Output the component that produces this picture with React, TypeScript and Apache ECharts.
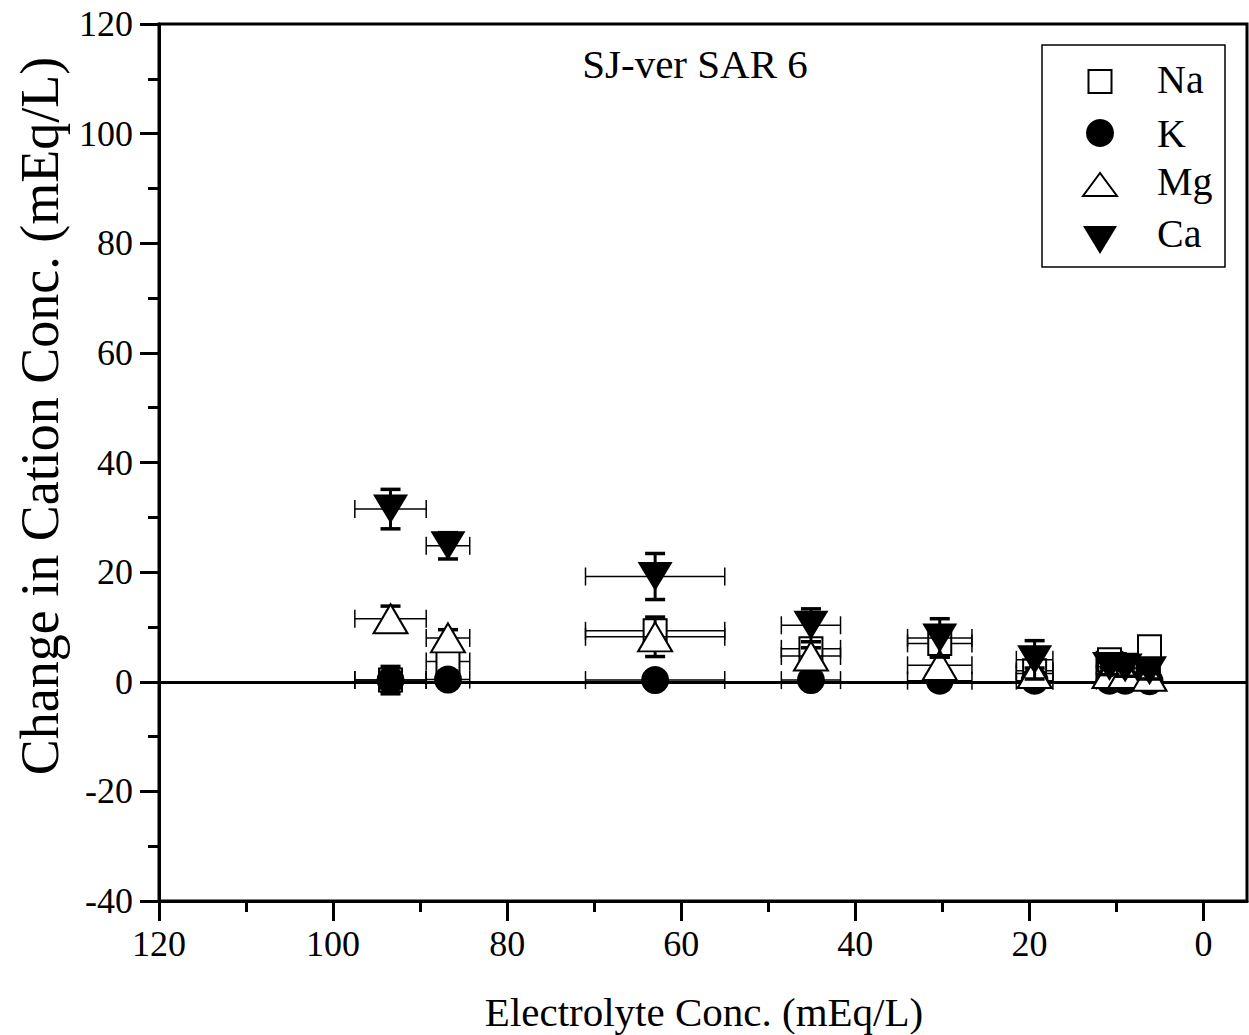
import React, { useEffect, useRef } from "react";
import * as echarts from "echarts";

const FONT = "Liberation Serif";

const cations = ["Na", "K", "Mg", "Ca"];
const electrolyte = [93.4, 86.8, 63.0, 45.1, 30.3, 19.4, 10.8, 9.0, 6.2];
const electrolyteErr = [4.1, 2.5, 8.0, 3.4, 3.7, 2.1, 1.5, 1.5, 1.2];

const naValues = [0.3, 3.7, 9.3, 6.0, 7.0, 2.0, 4.0, 3.0, 6.4];
const naErr = [2.0, 1.5, 1.0, 1.0, 1.0, 1.0, 1.0, 1.0, 1.5];
const kValues = [0.3, 0.4, 0.3, 0.3, 0.2, 0.2, 0.2, 0.2, 0.1];
const kErr = [2.5, 1.5, 0.3, 0.5, 0.5, 0.5, 0.8, 0.8, 1.0];
const mgValues = [11.5, 8.0, 8.2, 4.7, 3.0, 1.5, 1.5, 1.5, 1.0];
const mgErr = [2.3, 1.5, 3.6, 1.5, 1.5, 1.0, 1.0, 1.0, 1.0];
const caValues = [31.5, 24.8, 19.2, 10.3, 8.0, 4.0, 2.8, 2.5, 2.0];
const caErr = [3.6, 2.4, 4.2, 3.0, 3.5, 3.5, 1.5, 1.5, 1.5];

const xMajorTicks = [0, 20, 40, 60, 80, 100, 120];
const xMinorTicks = [10, 30, 50, 70, 90, 110];
const yMinorTicks = [-30, -10, 10, 30, 50, 70, 90, 110];

const seriesValues = [naValues, kValues, mgValues, caValues];
const seriesErrs = [naErr, kErr, mgErr, caErr];

const markerStyles: any[] = [
  { symbol: "rect", symbolSize: 23, symbolRotate: 0, itemStyle: { color: "#fff", borderColor: "#000", borderWidth: 2, opacity: 1 } },
  { symbol: "circle", symbolSize: 28, symbolRotate: 0, itemStyle: { color: "#000", borderColor: "#000", borderWidth: 0, opacity: 1 } },
  { symbol: "triangle", symbolSize: [34, 29], symbolRotate: 0, itemStyle: { color: "#fff", borderColor: "#000", borderWidth: 2, opacity: 1 } },
  { symbol: "triangle", symbolSize: [35, 29], symbolRotate: 180, itemStyle: { color: "#000", borderColor: "#000", borderWidth: 0, opacity: 1 } },
];

function errorRender(params: any, api: any) {
  const x = api.value(0);
  const y = api.value(1);
  const xe = api.value(2);
  const ye = api.value(3);
  const l = api.coord([x + xe, y]);
  const r = api.coord([x - xe, y]);
  const t = api.coord([x, y + ye]);
  const b = api.coord([x, y - ye]);
  const thin = { stroke: "#000", lineWidth: 1.5 };
  const thick = { stroke: "#000", lineWidth: 3 };
  const capH = 9;
  const capW = 10;
  return {
    type: "group",
    children: [
      { type: "line", shape: { x1: l[0], y1: l[1], x2: r[0], y2: r[1] }, style: thin },
      { type: "line", shape: { x1: l[0], y1: l[1] - capH, x2: l[0], y2: l[1] + capH }, style: thin },
      { type: "line", shape: { x1: r[0], y1: r[1] - capH, x2: r[0], y2: r[1] + capH }, style: thin },
      { type: "line", shape: { x1: t[0], y1: t[1], x2: b[0], y2: b[1] }, style: thick },
      { type: "line", shape: { x1: t[0] - capW, y1: t[1], x2: t[0] + capW, y2: t[1] }, style: { stroke: "#000", lineWidth: 3.5 } },
      { type: "line", shape: { x1: b[0] - capW, y1: b[1], x2: b[0] + capW, y2: b[1] }, style: { stroke: "#000", lineWidth: 3.5 } },
    ],
  };
}

export default function App() {
  const ref = useRef<HTMLDivElement>(null);
  useEffect(() => {
    if (!ref.current) return;
    const chart = echarts.init(ref.current, null, { renderer: "svg" });

    const series: any[] = [
      {
        type: "line",
        name: "zero",
        data: [],
        z: 1,
        markLine: {
          silent: true,
          symbol: "none",
          label: { show: false },
          lineStyle: { color: "#000", width: 3, type: "solid" },
          data: [{ yAxis: 0 }],
        },
      },
    ];
    cations.forEach((name, i) => {
      const vals = seriesValues[i];
      const errs = seriesErrs[i];
      series.push({
        type: "custom",
        name: name + " error",
        z: 2 + i * 2,
        renderItem: errorRender,
        encode: { x: 0, y: 1 },
        data: electrolyte.map((e, j) => [e, vals[j], electrolyteErr[j], errs[j]]),
      });
      series.push({
        type: "scatter",
        name,
        z: 3 + i * 2,
        ...markerStyles[i],
        emphasis: { disabled: true },
        data: electrolyte.map((e, j) => [e, vals[j]]),
      });
    });

    const legendTop = [81.5, 133, 185, 238];
    const legendTextY = [79, 133, 181, 233];
    const legendGraphics: any[] = [
      {
        type: "rect",
        shape: { x: 1042, y: 45, width: 183, height: 222 },
        style: { fill: "#fff", stroke: "#000", lineWidth: 1.5 },
        z: 100,
      },
      {
        type: "rect",
        shape: { x: 1100 - 11.5, y: legendTop[0] - 11.5, width: 23, height: 23 },
        style: { fill: "#fff", stroke: "#000", lineWidth: 2 },
        z: 101,
      },
      {
        type: "circle",
        shape: { cx: 1100, cy: legendTop[1], r: 14 },
        style: { fill: "#000" },
        z: 101,
      },
      {
        type: "polygon",
        shape: { points: [[1100, legendTop[2] - 12], [1083, legendTop[2] + 11], [1117, legendTop[2] + 11]] },
        style: { fill: "#fff", stroke: "#000", lineWidth: 2 },
        z: 101,
      },
      {
        type: "polygon",
        shape: { points: [[1083, legendTop[3] - 12], [1117, legendTop[3] - 12], [1100, legendTop[3] + 16]] },
        style: { fill: "#000" },
        z: 101,
      },
    ];
    cations.forEach((name, i) => {
      legendGraphics.push({
        type: "text",
        x: 1157,
        y: legendTextY[i],
        z: 101,
        style: {
          text: name,
          fontSize: 40,
          fontFamily: FONT,
          fill: "#000",
          align: "left",
          verticalAlign: "middle",
        },
      });
    });

    const option: any = {
      animation: false,
      backgroundColor: "#fff",
      textStyle: { fontFamily: FONT },
      grid: {
        left: 159,
        right: 2,
        top: 24,
        bottom: 134,
        show: true,
        borderColor: "#000",
        borderWidth: 3,
        backgroundColor: "transparent",
      },
      xAxis: [
        {
          type: "value",
          min: -5,
          max: 120,
          inverse: true,
          position: "bottom",
          axisLine: { show: true, onZero: false, lineStyle: { color: "#000", width: 3 } },
          axisTick: { show: true, customValues: xMajorTicks, length: 20, lineStyle: { color: "#000", width: 3 } },
          axisLabel: {
            show: true,
            customValues: xMajorTicks,
            fontSize: 36,
            fontFamily: FONT,
            color: "#000",
            margin: 25,
          },
          splitLine: { show: false },
        },
        {
          type: "value",
          min: -5,
          max: 120,
          inverse: true,
          position: "bottom",
          axisLine: { show: false, onZero: false },
          axisTick: { show: true, customValues: xMinorTicks, length: 11, lineStyle: { color: "#000", width: 3 } },
          axisLabel: { show: false },
          splitLine: { show: false },
        },
      ],
      yAxis: [
        {
          type: "value",
          min: -40,
          max: 120,
          interval: 20,
          position: "left",
          axisLine: { show: true, onZero: false, lineStyle: { color: "#000", width: 3 } },
          axisTick: { show: true, length: 19, lineStyle: { color: "#000", width: 3 } },
          axisLabel: { fontSize: 36, fontFamily: FONT, color: "#000", margin: 26 },
          splitLine: { show: false },
        },
        {
          type: "value",
          min: -40,
          max: 120,
          position: "left",
          axisLine: { show: false, onZero: false },
          axisTick: { show: true, customValues: yMinorTicks, length: 11, lineStyle: { color: "#000", width: 3 } },
          axisLabel: { show: false },
          splitLine: { show: false },
        },
      ],
      series,
      graphic: [
        {
          type: "text",
          x: 695,
          y: 64,
          style: {
            text: "SJ-ver SAR 6",
            fontSize: 41,
            fontFamily: FONT,
            fill: "#000",
            align: "center",
            verticalAlign: "middle",
          },
        },
        {
          type: "text",
          x: 704,
          y: 1012,
          style: {
            text: "Electrolyte Conc. (mEq/L)",
            fontSize: 41,
            fontFamily: FONT,
            fill: "#000",
            align: "center",
            verticalAlign: "middle",
          },
        },
        {
          type: "text",
          x: 40,
          y: 416,
          rotation: Math.PI / 2,
          style: {
            text: "Change in Cation Conc. (mEq/L)",
            fontSize: 54,
            fontFamily: FONT,
            fill: "#000",
            align: "center",
            verticalAlign: "middle",
          },
        },
        ...legendGraphics,
      ],
    };
    chart.setOption(option);
    return () => chart.dispose();
  }, []);
  return (
    <div
      ref={ref}
      style={{ position: "fixed", left: 0, top: 0, width: 1249, height: 1035, background: "#fff" }}
    />
  );
}
